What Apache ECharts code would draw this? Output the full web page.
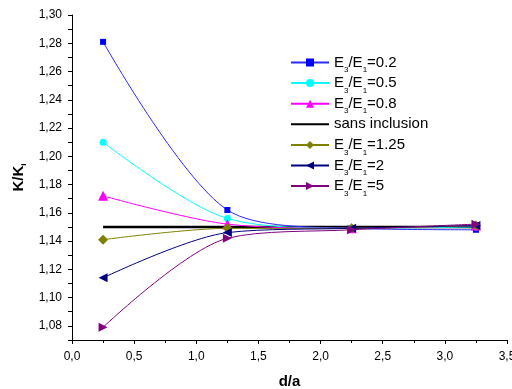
<!DOCTYPE html>
<html><head><meta charset="utf-8">
<script src="https://cdn.jsdelivr.net/npm/echarts@6/dist/echarts.min.js"></script>
<style>html,body{margin:0;padding:0;background:#fff}#c{width:512px;height:389px}</style>
</head><body><div id="c"></div>
<script>
var xValues = [0.25, 1.25, 2.25, 3.25];
var seriesNames = ['E3/E1=0.2', 'E3/E1=0.5', 'E3/E1=0.8', 'sans inclusion', 'E3/E1=1.25', 'E3/E1=2', 'E3/E1=5'];
var s02  = [1.281, 1.162, 1.149, 1.148];
var s05  = [1.210, 1.156, 1.149, 1.150];
var s08  = [1.172, 1.152, 1.149, 1.151];
var sans = [1.150, 1.150, 1.150, 1.150];
var s125 = [1.141, 1.149, 1.149, 1.151];
var s2   = [1.114, 1.146, 1.149, 1.151];
var s5   = [1.079, 1.142, 1.148, 1.152];

var FONT = 'Liberation Sans, Arial, sans-serif';
function pts(v){ return xValues.map(function(x,i){ return [x, v[i]]; }); }
function mk(name, data, color, symbol, size, extra){
  var s = {
    name: name, type: 'line', data: pts(data), smooth: 0.3,
    symbol: symbol, symbolSize: size, showSymbol: true,
    lineStyle: {color: color, width: 1},
    itemStyle: {color: color},
    z: 2
  };
  for (var k in extra) s[k] = extra[k];
  return s;
}
var chart = echarts.init(document.getElementById('c'));
chart.setOption({
  animation: false,
  grid: {left: 72, right: 5, top: 15, bottom: 49, outerBoundsMode: 'none', containLabel: false},
  legend: {
    orient: 'vertical', left: 285, top: 46,
    itemWidth: 38, itemHeight: 10, itemGap: -2.4,
    data: seriesNames,
    formatter: function(n){
      if (n.indexOf('E3/E1=') === 0) return '{a|E}{s|3}{a|/E}{s|1}{a|=' + n.substring(6) + '}';
      return '{a|' + n + '}{s| }';
    },
    textStyle: {
      fontFamily: FONT, fontSize: 15, color: '#000',
      rich: {
        a: {fontFamily: FONT, fontSize: 15, color: '#000', lineHeight: 18, verticalAlign: 'middle'},
        s: {fontFamily: FONT, fontSize: 8, color: '#000', lineHeight: 10, padding: [15, 0, 0, 0], verticalAlign: 'middle'}
      }
    }
  },
  xAxis: {
    type: 'value', min: 0, max: 3.5, interval: 0.5,
    name: 'd/a', nameLocation: 'middle', nameGap: 34,
    nameTextStyle: {fontFamily: FONT, fontSize: 15, fontWeight: 'bold', color: '#000'},
    axisLine: {onZero: false, lineStyle: {color: '#000', width: 1}},
    axisTick: {length: 4, lineStyle: {color: '#000'}},
    minorTick: {show: true, splitNumber: 2, length: 3, lineStyle: {color: '#000'}},
    axisLabel: {fontFamily: FONT, fontSize: 12, color: '#000', margin: 11,
      formatter: function(v){ return v.toFixed(1).replace('.', ','); }},
    splitLine: {show: false}
  },
  yAxis: {
    type: 'value', min: 1.07, max: 1.30, interval: 0.01,
    name: '{b|K/K}{i|i}', nameLocation: 'middle', nameGap: 44, nameRotate: 90,
    nameTextStyle: {fontFamily: FONT, fontSize: 15, fontWeight: 'bold', color: '#000',
      rich: {b: {fontFamily: FONT, fontSize: 15, fontWeight: 'bold', color: '#000'},
             i: {fontFamily: FONT, fontSize: 8, fontWeight: 'bold', color: '#000', padding: [9,0,0,0]}}},
    axisLine: {show: true, lineStyle: {color: '#000', width: 1}},
    axisTick: {length: 4, lineStyle: {color: '#000'}},
    axisLabel: {fontFamily: FONT, fontSize: 12, color: '#000', margin: 10,
      formatter: function(v){ var r = Math.round(v*100); if (r % 2 !== 0) return ''; return (r/100).toFixed(2).replace('.', ','); }},
    splitLine: {show: false}
  },
  series: [
    mk(seriesNames[0], s02, '#0000ff', 'rect', 6, {lineStyle: {color: '#2a2aff', width: 1}}),
    mk(seriesNames[1], s05, '#00ffff', 'circle', 7, {}),
    mk(seriesNames[2], s08, '#ff00ff', 'triangle', 10, {}),
    {name: seriesNames[3], type: 'line', data: pts(sans), symbol: 'none', showSymbol: false,
     lineStyle: {color: '#000', width: 2.5}, itemStyle: {color: 'rgba(0,0,0,0)'}, z: 1},
    mk(seriesNames[4], s125, '#808000', 'diamond', 10, {}),
    mk(seriesNames[5], s2, '#000080', 'path://M10,0 L0,5 L10,10 Z', 9, {}),
    mk(seriesNames[6], s5, '#800080', 'path://M0,0 L10,5 L0,10 Z', 9, {})
  ]
});
</script></body></html>
